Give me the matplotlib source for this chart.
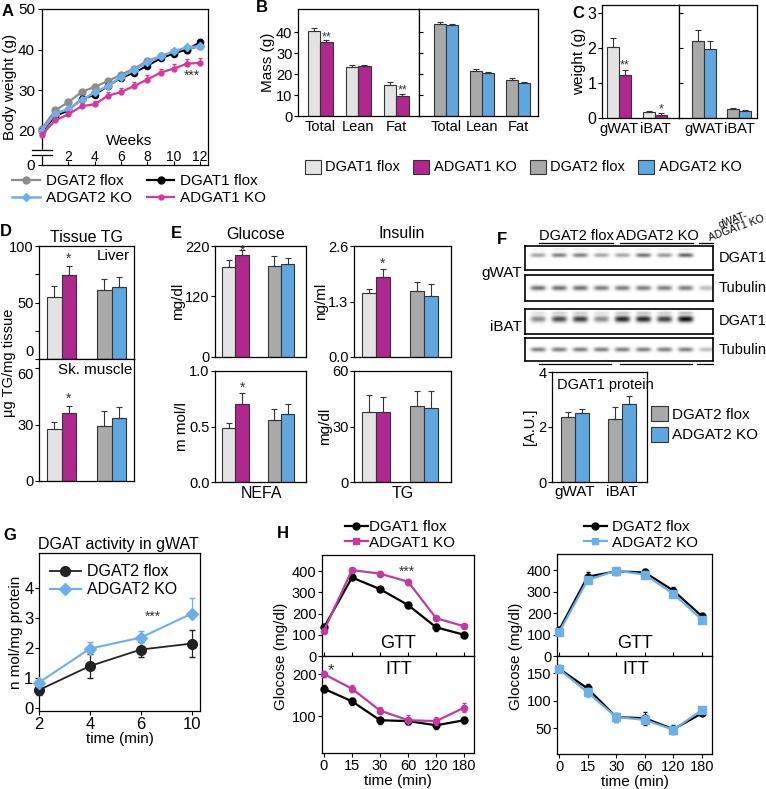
import numpy as np
import matplotlib
matplotlib.use('Agg')
import matplotlib.pyplot as plt
from matplotlib.patches import Patch, Rectangle
from matplotlib.lines import Line2D

plt.rcParams['font.family'] = ['Liberation Sans', 'DejaVu Sans']
plt.rcParams['font.size'] = 10
plt.rcParams['axes.linewidth'] = 0.9
plt.rcParams['xtick.major.width'] = 0.8
plt.rcParams['ytick.major.width'] = 0.8
plt.rcParams['xtick.major.size'] = 3
plt.rcParams['ytick.major.size'] = 3

# ---------------- data ----------------
# A: body weight (g) per week
weeks = np.arange(13)
bw_dgat2_flox = [20.5, 25.0, 27.0, 29.5, 30.8, 32.2, 33.8, 35.3, 37.2, 38.3, 39.3, 40.0, 40.8]
bw_dgat1_flox = [19.8, 23.5, 25.0, 27.8, 28.8, 31.0, 33.0, 34.3, 36.0, 37.8, 39.0, 40.0, 41.8]
bw_adgat2_ko = [20.0, 24.2, 25.3, 27.5, 29.4, 31.0, 33.2, 35.0, 36.8, 38.3, 39.6, 40.5, 40.8]
bw_adgat1_ko = [19.0, 22.5, 24.0, 26.0, 26.5, 28.6, 29.5, 31.0, 32.6, 34.3, 35.3, 36.5, 36.7]
bw_dgat1_flox_err = [0.5, 0.6, 0.6, 0.7, 0.7, 0.8, 0.8, 0.8, 0.8, 0.8, 0.8, 0.8, 0.8]
bw_adgat1_ko_err = [0.6, 0.8, 0.8, 0.8, 0.8, 1.0, 1.0, 1.0, 1.0, 1.0, 1.1, 1.2, 1.2]

# B: body composition (g)
comp_cats = ['Total', 'Lean', 'Fat']
comp_dgat1_flox = [40.5, 23.5, 14.8]
comp_dgat1_flox_err = [1.5, 1.0, 1.5]
comp_adgat1_ko = [35.5, 23.7, 9.3]
comp_adgat1_ko_err = [0.5, 0.6, 1.3]
comp_dgat2_flox = [44.0, 21.5, 17.0]
comp_dgat2_flox_err = [1.0, 0.8, 1.0]
comp_adgat2_ko = [43.3, 20.3, 15.5]
comp_adgat2_ko_err = [0.5, 0.5, 0.7]
comp_stars = ['**', '', '**']

# C: fat pad weight (g)
pad_cats = ['gWAT', 'iBAT']
pad_dgat1_flox = [2.03, 0.17]
pad_dgat1_flox_err = [0.25, 0.03]
pad_adgat1_ko = [1.23, 0.10]
pad_adgat1_ko_err = [0.15, 0.03]
pad_dgat2_flox = [2.20, 0.25]
pad_dgat2_flox_err = [0.32, 0.05]
pad_adgat2_ko = [1.97, 0.20]
pad_adgat2_ko_err = [0.22, 0.04]
pad_stars = ['**', '*']

# D: tissue TG (ug TG/mg tissue): [DGAT1 flox, ADGAT1 KO, DGAT2 flox, ADGAT2 KO]
liver_tg = [55, 74, 61, 64]
liver_tg_err = [10, 8, 10, 9]
muscle_tg = [27.5, 36, 29.5, 33.5]
muscle_tg_err = [4, 4, 8, 6]

# E: plasma parameters
glucose = [178, 202, 180, 185]
glucose_err = [15, 10, 20, 12]
insulin = [1.49, 1.87, 1.54, 1.44]
insulin_err = [0.1, 0.19, 0.21, 0.26]
nefa = [0.49, 0.70, 0.56, 0.61]
nefa_err = [0.04, 0.10, 0.10, 0.09]
plasma_tg = [38, 38, 41, 40]
plasma_tg_err = [9, 8, 8, 9]

# F: western blot band intensities (9 lanes: 4 flox, 4 KO, gWAT-ADGAT1 KO)
blot_gwat_dgat1 = [0.35, 0.5, 0.5, 0.35, 0.35, 0.55, 0.4, 0.6, 0.0]
blot_gwat_tub = [0.55, 0.55, 0.55, 0.5, 0.5, 0.5, 0.5, 0.5, 0.25]
blot_ibat_dgat1 = [0.45, 0.7, 0.75, 0.45, 0.85, 0.85, 0.75, 0.95, 0.0]
blot_ibat_tub = [0.5, 0.5, 0.5, 0.5, 0.5, 0.5, 0.5, 0.5, 0.25]
prot_cats = ['gWAT', 'iBAT']
prot_dgat2_flox = [2.35, 2.28]
prot_dgat2_flox_err = [0.18, 0.45]
prot_adgat2_ko = [2.52, 2.83]
prot_adgat2_ko_err = [0.12, 0.28]

# G: DGAT activity (nmol/mg protein)
act_time = ['2', '4', '6', '10']
act_dgat2_flox = [0.6, 1.4, 1.95, 2.15]
act_dgat2_flox_err = [0.15, 0.4, 0.25, 0.45]
act_adgat2_ko = [0.85, 1.98, 2.35, 3.15]
act_adgat2_ko_err = [0.05, 0.22, 0.22, 0.52]

# H: GTT / ITT glucose (mg/dl)
tt_time = ['0', '15', '30', '60', '120', '180']
gtt_dgat1_flox = [135, 370, 315, 240, 135, 100]
gtt_dgat1_flox_err = [10, 12, 10, 15, 15, 15]
gtt_adgat1_ko = [120, 405, 388, 350, 178, 140]
gtt_adgat1_ko_err = [10, 12, 12, 15, 12, 10]
itt_dgat1_flox = [165, 135, 90, 88, 78, 90]
itt_dgat1_flox_err = [8, 8, 8, 8, 8, 7]
itt_adgat1_ko = [200, 165, 113, 90, 88, 120]
itt_adgat1_ko_err = [8, 8, 8, 12, 10, 10]
gtt_dgat2_flox = [120, 370, 395, 390, 305, 185]
gtt_dgat2_flox_err = [10, 20, 15, 15, 15, 8]
gtt_adgat2_ko = [110, 355, 398, 380, 290, 170]
gtt_adgat2_ko_err = [10, 15, 15, 15, 15, 8]
itt_dgat2_flox = [158, 122, 70, 68, 48, 77]
itt_dgat2_flox_err = [6, 8, 8, 12, 8, 4]
itt_adgat2_ko = [157, 115, 70, 65, 47, 83]
itt_adgat2_ko_err = [5, 8, 8, 8, 6, 4]

# ---------------- style ----------------
C1F = '#e3e3e3'   # DGAT1 flox bars
C1K = '#b0288f'   # ADGAT1 KO bars
C2F = '#a9a9a9'   # DGAT2 flox bars
C2K = '#60a7e0'   # ADGAT2 KO bars
EDGE = '#333333'
L_GRAY = '#8c8c8c'
L_BLUE = '#6cb0ea'
L_MAG = '#d9359a'
H_MAG = '#c13a9e'

W, H = 766, 789
fig = plt.figure(figsize=(W / 100, H / 100), dpi=100)


def px_ax(x0, y0, x1, y1):
    return fig.add_axes([x0 / W, 1 - y1 / H, (x1 - x0) / W, (y1 - y0) / H])


def ftext(x, y, s, **kw):
    fig.text(x / W, 1 - y / H, s, **kw)


def up(err):
    return [np.zeros(len(err)), err]


EKW = dict(ecolor=EDGE, elinewidth=0.8, capsize=2, capthick=0.8)


def pair_bars(ax, a, ea, b, eb, ca, cb, w, stars=None, soff=0.0):
    x = np.arange(len(a))
    ax.bar(x - w / 2, a, w, color=ca, edgecolor=EDGE, lw=0.8, yerr=up(ea), error_kw=EKW)
    ax.bar(x + w / 2, b, w, color=cb, edgecolor=EDGE, lw=0.8, yerr=up(eb), error_kw=EKW)
    if stars:
        for i, s in enumerate(stars):
            if s:
                ax.text(x[i] + w / 2, b[i] + eb[i] + soff, s, ha='center', va='bottom',
                        fontsize=9, color='#333333')


def four_bars(ax, v, e, w=0.29, star_off=0.0, star=True):
    x = np.array([-w / 2, w / 2, 1 - w / 2, 1 + w / 2])
    ax.bar(x, v, w, color=[C1F, C1K, C2F, C2K], edgecolor=EDGE, lw=0.8, yerr=up(e), error_kw=EKW)
    if star:
        ax.text(x[1], v[1] + e[1] + star_off, '*', ha='center', va='bottom', fontsize=10,
                color='#333333', clip_on=False)
    ax.set_xticks([])


# ---------------- A ----------------
axA = px_ax(42, 9, 208, 165)
axA.plot(weeks, bw_dgat2_flox, '-o', color=L_GRAY, ms=5, lw=1.6, clip_on=False, zorder=3)
axA.errorbar(weeks, bw_dgat1_flox, yerr=up(bw_dgat1_flox_err), fmt='-o', color='black', ms=4.5,
             lw=1.4, capsize=1.5, elinewidth=0.8, clip_on=False, zorder=4)
axA.plot(weeks, bw_adgat2_ko, '-D', color=L_BLUE, ms=4, lw=1.8, clip_on=False, zorder=5)
axA.errorbar(weeks, bw_adgat1_ko, yerr=up(bw_adgat1_ko_err), fmt='-o', color=L_MAG, ms=3.5,
             lw=1.6, capsize=1.5, elinewidth=1.0, clip_on=False, zorder=6)
axA.set_xlim(0, 12.6)
axA.set_ylim(11.5, 50)
axA.set_yticks([11.5, 20, 30, 40, 50])
axA.set_yticklabels(['0', '20', '30', '40', '50'])
axA.set_xticks([2, 4, 6, 8, 10, 12])
axA.tick_params(axis='x', direction='in', pad=-11, labelsize=10)
axA.tick_params(axis='y', labelsize=11, pad=2)
axA.set_ylabel('Body weight (g)', fontsize=11, labelpad=1)
axA.text(6.6, 17.3, 'Weeks', ha='center', va='center', fontsize=11)
axA.text(11.4, 33.6, '***', ha='center', va='center', fontsize=10, color='#333333')
ty = axA.get_yaxis_transform()
axA.add_patch(Rectangle((-0.02, 13.9), 0.04, 1.4, transform=ty, color='white', clip_on=False, zorder=10))
for yy in (13.9, 15.3):
    axA.plot([-0.06, 0.06], [yy, yy], color='black', lw=0.9, transform=ty, clip_on=False, zorder=11)

hA = [Line2D([], [], color=L_GRAY, marker='o', ms=5, lw=1.6),
      Line2D([], [], color=L_BLUE, marker='D', ms=4, lw=1.8),
      Line2D([], [], color='black', marker='o', ms=5, lw=1.6),
      Line2D([], [], color=L_MAG, marker='o', ms=3.5, lw=1.6)]
fig.legend(hA, ['DGAT2 flox', 'ADGAT2 KO', 'DGAT1 flox', 'ADGAT1 KO'], ncol=2,
           loc='upper left', bbox_to_anchor=(12 / W, 1 - 174 / H), frameon=False,
           fontsize=11, handlelength=1.8, handletextpad=0.4, columnspacing=1.0,
           labelspacing=0.2, borderpad=0, borderaxespad=0)

# ---------------- B ----------------
axB1 = px_ax(298, 9, 419, 116)
axB2 = px_ax(419, 9, 538, 116)
pair_bars(axB1, comp_dgat1_flox, comp_dgat1_flox_err, comp_adgat1_ko, comp_adgat1_ko_err,
          C1F, C1K, 0.33, comp_stars, soff=-1.5)
pair_bars(axB2, comp_dgat2_flox, comp_dgat2_flox_err, comp_adgat2_ko, comp_adgat2_ko_err,
          C2F, C2K, 0.33)
axB1.set_xlim(-0.58, 2.6)
axB2.set_xlim(-0.75, 2.55)
for ax in (axB1, axB2):
    ax.set_ylim(0, 51)
    ax.set_yticks([0, 10, 20, 30, 40])
    ax.set_xticks(range(3))
    ax.set_xticklabels(comp_cats, fontsize=10.5)
    ax.tick_params(axis='x', length=0, pad=3)
axB1.tick_params(axis='y', labelsize=10.5, pad=1)
axB2.tick_params(axis='y', direction='in', labelleft=False)
axB1.set_ylabel('Mass (g)', fontsize=11, labelpad=1)

# ---------------- C ----------------
axC1 = px_ax(602, 5, 679, 118)
axC2 = px_ax(679, 5, 757, 118)
pair_bars(axC1, pad_dgat1_flox, pad_dgat1_flox_err, pad_adgat1_ko, pad_adgat1_ko_err,
          C1F, C1K, 0.33, pad_stars, soff=-0.05)
pair_bars(axC2, pad_dgat2_flox, pad_dgat2_flox_err, pad_adgat2_ko, pad_adgat2_ko_err,
          C2F, C2K, 0.33)
axC1.set_xlim(-0.47, 1.67)
axC2.set_xlim(-0.71, 1.51)
for ax in (axC1, axC2):
    ax.set_ylim(0, 3.23)
    ax.set_yticks([0, 1, 2, 3])
    ax.set_xticks(range(2))
    ax.set_xticklabels(pad_cats, fontsize=10.5)
    ax.tick_params(axis='x', length=0, pad=3)
axC1.tick_params(axis='y', labelsize=11.5, pad=1)
axC2.tick_params(axis='y', direction='in', labelleft=False)
axC1.set_ylabel('weight (g)', fontsize=11, labelpad=1)

hBC = [Patch(facecolor=c, edgecolor=EDGE, lw=0.8) for c in (C1F, C1K, C2F, C2K)]
fig.legend(hBC, ['DGAT1 flox', 'ADGAT1 KO', 'DGAT2 flox', 'ADGAT2 KO'], ncol=4,
           loc='center left', bbox_to_anchor=(305 / W, 1 - 167 / H), frameon=False,
           fontsize=10.5, handlelength=1.1, handleheight=1.1, handletextpad=0.3,
           columnspacing=0.9, borderpad=0, borderaxespad=0)

# ---------------- D ----------------
axD1 = px_ax(39, 246, 134, 359)
axD2 = px_ax(39, 359, 134, 481)
four_bars(axD1, liver_tg, liver_tg_err, star_off=0.5)
four_bars(axD2, muscle_tg, muscle_tg_err, star_off=0.3)
for ax in (axD1, axD2):
    ax.set_xlim(-0.45, 1.45)
    ax.tick_params(axis='y', labelsize=10.5, pad=1)
axD1.set_ylim(0, 100)
axD1.set_yticks([0, 25, 50, 75, 100])
axD1.set_yticklabels(['0', '', '50', '', '100'])
axD1.get_yticklabels()[0].set_va('bottom')
axD2.set_ylim(0, 65)
axD2.set_yticks([0, 30, 60])
axD2.get_yticklabels()[2].set_va('top')
axD1.text(0.96, 0.97, 'Liver', transform=axD1.transAxes, ha='right', va='top', fontsize=11)
axD2.text(0.98, 0.97, 'Sk. muscle', transform=axD2.transAxes, ha='right', va='top', fontsize=11)
ftext(86, 237, 'Tissue TG', ha='center', va='center', fontsize=11.5)
ftext(9, 363, 'µg TG/mg tissue', ha='center', va='center', rotation=90, fontsize=10.5)

# ---------------- E ----------------
axEg = px_ax(215, 246, 306, 357)
axEi = px_ax(354, 246, 451, 357)
axEn = px_ax(215, 371, 306, 482)
axEt = px_ax(354, 371, 451, 482)
four_bars(axEg, glucose, glucose_err, star_off=-16)
four_bars(axEi, insulin, insulin_err, star_off=-0.04)
four_bars(axEn, nefa, nefa_err, star_off=-0.01)
four_bars(axEt, plasma_tg, plasma_tg_err, star=False)
for ax in (axEg, axEi, axEn, axEt):
    ax.set_xlim(-0.45, 1.55)
    ax.tick_params(axis='y', labelsize=10.5, pad=1)
axEg.set_ylim(0, 220)
axEg.set_yticks([0, 120, 220])
axEi.set_ylim(0, 2.6)
axEi.set_yticks([0, 1.3, 2.6])
axEi.set_yticklabels(['0.0', '1.3', '2.6'])
axEn.set_ylim(0, 1.0)
axEn.set_yticks([0, 0.5, 1.0])
axEn.set_yticklabels(['0.0', '0.5', '1.0'])
axEt.set_ylim(0, 60)
axEt.set_yticks([0, 30, 60])
axEg.set_ylabel('mg/dl', fontsize=11, labelpad=0)
axEi.set_ylabel('ng/ml', fontsize=11, labelpad=0)
axEn.set_ylabel('m mol/l', fontsize=11, labelpad=0)
axEt.set_ylabel('mg/dl', fontsize=11, labelpad=0)
ftext(256, 235, 'Glucose', ha='center', va='center', fontsize=11.5)
ftext(402, 234, 'Insulin', ha='center', va='center', fontsize=11.5)
ftext(262, 494, 'NEFA', ha='center', va='center', fontsize=11.5)
ftext(403, 494, 'TG', ha='center', va='center', fontsize=11.5)

# ---------------- F ----------------
def blot(box, vals, yc, sy, faint=0.0):
    ax = px_ax(*box)
    xs = np.linspace(-0.62, 8.29, 400)
    ys = np.linspace(0, 1, 60)
    X, Y = np.meshgrid(xs, ys)
    img = np.ones_like(X)
    for i, v in enumerate(vals):
        lane = np.exp(-((X - i) / 0.36) ** 4)
        img -= v * lane * np.exp(-((Y - yc) / sy) ** 2)
        img -= faint * v * lane * np.exp(-((Y - (yc + 0.25)) / 0.06) ** 2)
    ax.imshow(np.clip(img, 0, 1), cmap='gray', vmin=0, vmax=1, aspect='auto',
              extent=(-0.62, 8.29, 0, 1), origin='lower', interpolation='bilinear')
    ax.set_xticks([])
    ax.set_yticks([])
    for s in ax.spines.values():
        s.set_linewidth(1.2)
    return ax


blot((525, 246, 713, 270), blot_gwat_dgat1, 0.62, 0.09, faint=0.15)
blot((525, 275, 713, 301), blot_gwat_tub, 0.5, 0.1)
blot((525, 309, 713, 334), blot_ibat_dgat1, 0.6, 0.13, faint=0.25)
blot((525, 338, 713, 361), blot_ibat_tub, 0.5, 0.1)
ftext(719, 258, 'DGAT1', ha='left', va='center', fontsize=10.5)
ftext(719, 288, 'Tubulin', ha='left', va='center', fontsize=10.5)
ftext(719, 321, 'DGAT1', ha='left', va='center', fontsize=10.5)
ftext(719, 350, 'Tubulin', ha='left', va='center', fontsize=10.5)
ftext(522, 273, 'gWAT', ha='right', va='center', fontsize=11)
ftext(522, 327, 'iBAT', ha='right', va='center', fontsize=11)
ftext(576, 236, 'DGAT2 flox', ha='center', va='center', fontsize=10.5)
ftext(657, 236, 'ADGAT2 KO', ha='center', va='center', fontsize=10.5)
ftext(735, 224, 'gWAT-\nADGAT1 KO', ha='center', va='center', fontsize=7.5,
      rotation=20, linespacing=0.9)
for (xa, xb, yy) in [(539, 613, 243), (620, 693, 243), (699, 713, 243),
                     (539, 611, 364), (620, 692, 364), (697, 713, 364)]:
    fig.add_artist(Line2D([xa / W, xb / W], [1 - yy / H, 1 - yy / H], color='black', lw=0.9))

axF = px_ax(552, 372, 647, 482)
pair_bars(axF, prot_dgat2_flox, prot_dgat2_flox_err, prot_adgat2_ko, prot_adgat2_ko_err,
          C2F, C2K, 0.3)
axF.set_xlim(-0.49, 1.53)
axF.set_ylim(0, 4)
axF.set_yticks([0, 2, 4])
axF.set_xticks(range(2))
axF.set_xticklabels(prot_cats, fontsize=11)
axF.tick_params(axis='x', length=0, pad=2)
axF.tick_params(axis='y', labelsize=10.5, pad=1)
axF.set_ylabel('[A.U.]', fontsize=10.5, labelpad=1)
axF.text(0.05, 0.95, 'DGAT1 protein', transform=axF.transAxes, ha='left', va='top', fontsize=10.5)
fig.legend([Patch(facecolor=C2F, edgecolor=EDGE, lw=0.8), Patch(facecolor=C2K, edgecolor=EDGE, lw=0.8)],
           ['DGAT2 flox', 'ADGAT2 KO'], loc='upper left', bbox_to_anchor=(651 / W, 1 - 406 / H),
           frameon=False, fontsize=11, handlelength=1.1, handleheight=1.1, handletextpad=0.3,
           labelspacing=0.35, borderpad=0, borderaxespad=0)

# ---------------- G ----------------
axG = px_ax(39, 553, 200, 711)
xg = np.arange(len(act_time))
axG.errorbar(xg, act_dgat2_flox, yerr=act_dgat2_flox_err, fmt='-o', color='#222222', ms=7,
             lw=1.3, capsize=2, elinewidth=0.9, clip_on=False, zorder=3)
axG.errorbar(xg, act_adgat2_ko, yerr=up(act_adgat2_ko_err), fmt='-D', color=L_BLUE, ms=6,
             lw=1.5, capsize=2, elinewidth=0.9, clip_on=False, zorder=4)
axG.set_xlim(0, 3.16)
axG.set_ylim(-0.1, 5.17)
axG.set_yticks([0, 1, 2, 3, 4])
axG.set_xticks(xg)
axG.set_xticklabels(act_time)
axG.tick_params(labelsize=12, pad=1)
axG.set_xlabel('time (min)', fontsize=11, labelpad=0)
axG.set_ylabel('n mol/mg protein', fontsize=11, labelpad=1)
axG.text(2.24, 3.05, '***', ha='center', va='center', fontsize=10, color='#333333')
axG.legend([Line2D([], [], color='#222222', marker='o', ms=7, lw=1.3),
            Line2D([], [], color=L_BLUE, marker='D', ms=6, lw=1.5)],
           ['DGAT2 flox', 'ADGAT2 KO'], loc='upper left', frameon=False, fontsize=11.5,
           handlelength=1.9, handletextpad=0.4, labelspacing=0.2, borderaxespad=0.3)
ftext(118, 544, 'DGAT activity in gWAT', ha='center', va='center', fontsize=11.5)

# ---------------- H ----------------
xt = np.arange(len(tt_time))


def tt_panel(box_top, box_bot, gtt_a, ea, gtt_b, eb, itt_a, eia, itt_b, eib,
             col_b, mk_b, ms_b, ylim_itt, yticks_itt, ylab_x):
    a1 = px_ax(*box_top)
    a2 = px_ax(*box_bot)
    for ax, ya, yea, yb, yeb in ((a1, gtt_a, ea, gtt_b, eb), (a2, itt_a, eia, itt_b, eib)):
        ax.errorbar(xt, ya, yerr=yea, fmt='-o', color='black', ms=5, lw=1.6, capsize=1.5,
                    elinewidth=0.8, clip_on=False, zorder=3)
        ax.errorbar(xt, yb, yerr=yeb, fmt='-' + mk_b, color=col_b, ms=ms_b, lw=1.6, capsize=1.5,
                    elinewidth=0.8, clip_on=False, zorder=4)
        ax.set_xlim(-0.07, 5.35)
        ax.set_xticks(xt)
        ax.tick_params(axis='y', labelsize=10.5, pad=1)
    a1.set_ylim(0, 476)
    a1.set_yticks([0, 100, 200, 300, 400])
    a1.tick_params(axis='x', direction='in', labelbottom=False)
    a2.set_ylim(*ylim_itt)
    a2.set_yticks(yticks_itt)
    a2.set_xticklabels(tt_time)
    a2.tick_params(axis='x', labelsize=10.5, pad=1)
    a2.set_xlabel('time (min)', fontsize=11, labelpad=1)
    a1.text(2.65, 20, 'GTT', ha='center', va='bottom', fontsize=13)
    a2.text(2.68, 0.95, 'ITT', transform=a2.get_xaxis_transform(), ha='center', va='top', fontsize=13)
    ftext(ylab_x, 656, 'Glocose (mg/dl)', ha='center', va='center', rotation=90, fontsize=11)
    return a1, a2


hl1, hl2 = tt_panel((322, 555, 474, 656), (322, 656, 474, 753),
                    gtt_dgat1_flox, gtt_dgat1_flox_err, gtt_adgat1_ko, gtt_adgat1_ko_err,
                    itt_dgat1_flox, itt_dgat1_flox_err, itt_adgat1_ko, itt_adgat1_ko_err,
                    H_MAG, 'o', 4.5, (12, 243), [100, 200], 281)
hl1.text(2.95, 395, '***', ha='center', va='center', fontsize=10, color='#333333')
hl2.text(0.25, 208, '*', ha='center', va='center', fontsize=12, color='#333333')

hr1, hr2 = tt_panel((557, 554, 712, 656), (557, 656, 712, 754),
                    gtt_dgat2_flox, gtt_dgat2_flox_err, gtt_adgat2_ko, gtt_adgat2_ko_err,
                    itt_dgat2_flox, itt_dgat2_flox_err, itt_adgat2_ko, itt_adgat2_ko_err,
                    L_BLUE, 's', 6, (3, 181), [50, 100, 150], 516)

fig.legend([Line2D([], [], color='black', marker='o', ms=5, lw=1.6),
            Line2D([], [], color=H_MAG, marker='s', ms=5, lw=1.6)],
           ['DGAT1 flox', 'ADGAT1 KO'], loc='upper left', bbox_to_anchor=(345 / W, 1 - 520 / H),
           frameon=False, fontsize=11, handlelength=1.5, handletextpad=0.1,
           labelspacing=0.1, borderpad=0, borderaxespad=0)
fig.legend([Line2D([], [], color='black', marker='o', ms=5, lw=1.6),
            Line2D([], [], color=L_BLUE, marker='s', ms=5, lw=1.6)],
           ['DGAT2 flox', 'ADGAT2 KO'], loc='upper left', bbox_to_anchor=(584 / W, 1 - 520 / H),
           frameon=False, fontsize=11, handlelength=1.5, handletextpad=0.3,
           labelspacing=0.1, borderpad=0, borderaxespad=0)

# ---------------- panel letters ----------------
for lab, x, y in [('A', 8, 11), ('B', 262, 8), ('C', 578, 13), ('D', 6, 232),
                  ('E', 176, 233), ('F', 502, 240), ('G', 10, 535), ('H', 283, 534)]:
    ftext(x, y, lab, ha='center', va='center', fontsize=12, fontweight='bold')

fig.savefig('out.png', dpi=100)
